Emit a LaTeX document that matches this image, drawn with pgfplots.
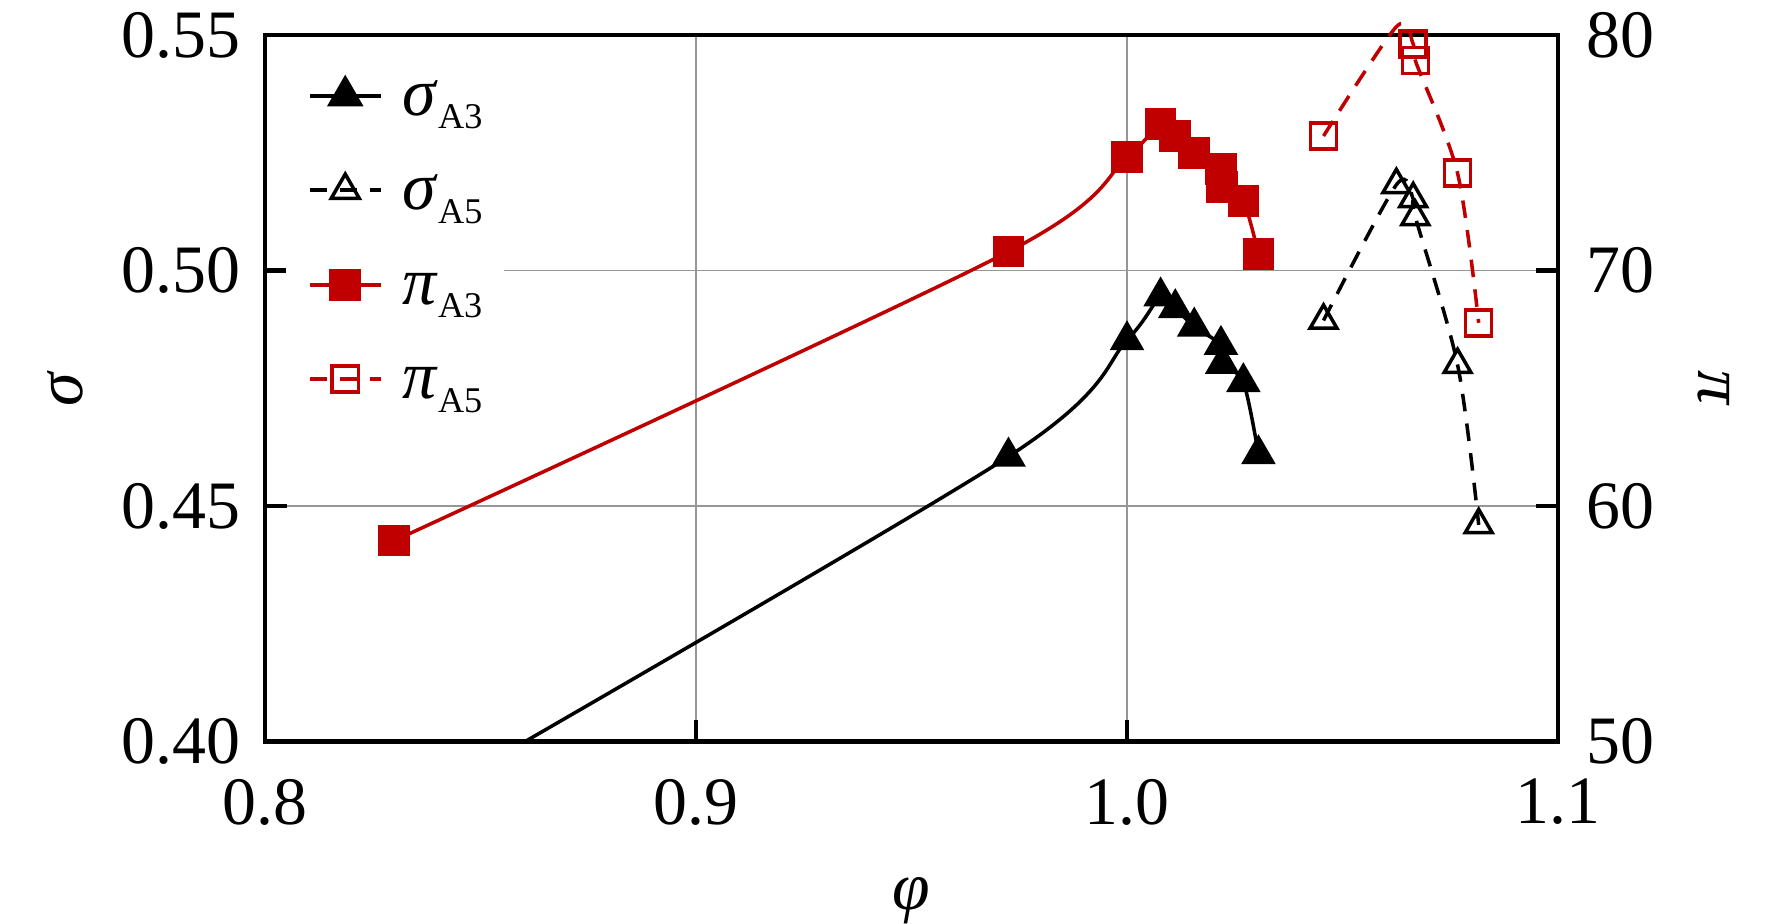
\documentclass[border=0pt]{standalone}
\usepackage{fontspec}
\setmainfont{Liberation Serif}
\usepackage{pgfplots}
\usepackage{pgfplotstable}
\pgfplotsset{compat=1.18}
\definecolor{dred}{RGB}{192,0,0}
\definecolor{gridgray}{RGB}{150,150,150}

\pgfplotstableread{
phi sig
0.8300 0.3840
0.9725 0.4605
1.0000 0.4852
1.0078 0.4945
1.0112 0.4920
1.0156 0.4881
1.0218 0.4842
1.0221 0.4802
1.0270 0.4763
1.0305 0.4610
}\sigAthree

\pgfplotstableread{
phi sig
1.0456 0.4894
1.0625 0.5182
1.0664 0.5152
1.0669 0.5114
1.0767 0.4800
1.0816 0.4460
}\sigAfive

\pgfplotstableread{
phi p
0.8300 58.53
0.9725 70.80
1.0000 74.81
1.0078 76.22
1.0112 75.70
1.0156 74.98
1.0218 74.31
1.0221 73.55
1.0270 72.94
1.0305 70.69
}\piAthree

\pgfplotstableread{
phi p
1.0456 75.71
1.0625 80.35
1.0664 79.62
1.0669 78.91
1.0767 74.13
1.0816 67.78
}\piAfive

\newcommand{\tf}{\fontsize{19.3}{22}\selectfont}
\newcommand{\lab}[2]{\textit{#1}\raisebox{-3.8pt}{\fontsize{10.3}{12}\selectfont #2}}

\begin{document}
\begin{tikzpicture}
\path[use as bounding box] (-26.5mm,-18.15mm) rectangle (150.7mm,74.15mm);
\begin{axis}[
  scale only axis, width=129.3mm, height=70.65mm,
  xmin=0.8, xmax=1.1, ymin=0.40, ymax=0.55,
  xtick={0.8,0.9,1.0,1.1}, xticklabels={0.8,0.9,1.0,1.1},
  ytick={0.40,0.45,0.50,0.55}, yticklabels={0.40,0.45,0.50,0.55},
  xtick pos=left, ytick pos=left, tick align=inside,
  major tick length=2.2mm,
  axis line style={line width=1.3pt, black},
  major tick style={line width=1.3pt, black},
  grid=major, major grid style={line width=0.5pt, gridgray},
  tick label style={font=\tf},
  xticklabel style={inner sep=0pt, yshift=-3.7mm},
  yticklabel style={inner sep=0pt, xshift=-2.4mm},
  xlabel={\textit{φ}}, ylabel={\textit{σ}},
  every axis x label/.style={at={(axis description cs:0.5,0)}, anchor=base, yshift=-16.8mm, font=\tf},
  every axis y label/.style={at={(axis description cs:0,0.5)}, anchor=center, xshift=-20mm, rotate=90, font=\tf},
]
\addplot[black, line width=1pt, smooth, no marks] table[x=phi,y=sig] {\sigAthree};
\addplot[black, line width=1pt, only marks, mark=triangle*, mark size=4.7pt, skip coords between index={0}{1}] table[x=phi,y=sig] {\sigAthree};
\addplot[black, line width=1pt, smooth, dash pattern=on 5pt off 3.5pt, mark=triangle, mark size=4.4pt, mark options={solid, line width=1pt}] table[x=phi,y=sig] {\sigAfive};
\end{axis}
\begin{axis}[
  scale only axis, width=129.3mm, height=70.65mm,
  xmin=0.8, xmax=1.1, ymin=50, ymax=80,
  axis x line=none, axis y line*=right,
  ytick={50,60,70,80}, yticklabels={50,60,70,80},
  ytick pos=right, tick align=inside,
  major tick length=2.2mm,
  axis line style={line width=1.3pt, black},
  major tick style={line width=1.3pt, black},
  tick label style={font=\tf},
  yticklabel style={inner sep=0pt, xshift=2.8mm},
  clip=false,
  ylabel={\textit{π}},
  every axis y label/.style={at={(axis description cs:1,0.5)}, anchor=center, xshift=15.6mm, rotate=-90, font=\tf},
  legend cell align=left,
  legend style={at={(axis description cs:0,1)}, anchor=north west, xshift=2.1mm, yshift=-1.2mm,
    draw=none, fill=white, inner xsep=2.2mm, inner ysep=0.15mm, outer sep=0pt,
    column sep=2mm, row sep=0pt, font=\tf,
    nodes={inner sep=0pt, text height=6.665mm, text depth=2.785mm}},
  legend image code/.code={\draw[mark repeat=2,mark phase=2,#1] plot coordinates {(0mm,0mm) (3.55mm,0mm) (7.1mm,0mm)};},
]
\addlegendimage{black, line width=1pt, mark=triangle*, mark size=5pt}
\addlegendentry{\lab{σ}{A3}}
\addlegendimage{black, line width=1pt, dash pattern=on 5pt off 3.5pt, mark=triangle, mark size=4.6pt, mark options={solid, line width=1pt}}
\addlegendentry{\lab{σ}{A5}}
\addlegendimage{dred, line width=1pt, mark=square*, mark size=4.1pt}
\addlegendentry{\lab{π}{A3}}
\addlegendimage{dred, line width=1pt, dash pattern=on 5pt off 3.5pt, mark=square, mark size=3.7pt, mark options={solid, line width=1pt}}
\addlegendentry{\lab{π}{A5}}
\addplot[dred, line width=1pt, smooth, mark=square*, mark size=4pt, forget plot] table[x=phi,y=p] {\piAthree};
\addplot[dred, line width=1pt, smooth, dash pattern=on 5pt off 3.5pt, no marks, forget plot] table[x=phi,y=p] {\piAfive};
\addplot[dred, line width=1pt, only marks, mark=square, mark size=3.7pt, skip coords between index={1}{2}, forget plot] table[x=phi,y=p] {\piAfive};
\end{axis}
\end{tikzpicture}
\end{document}
